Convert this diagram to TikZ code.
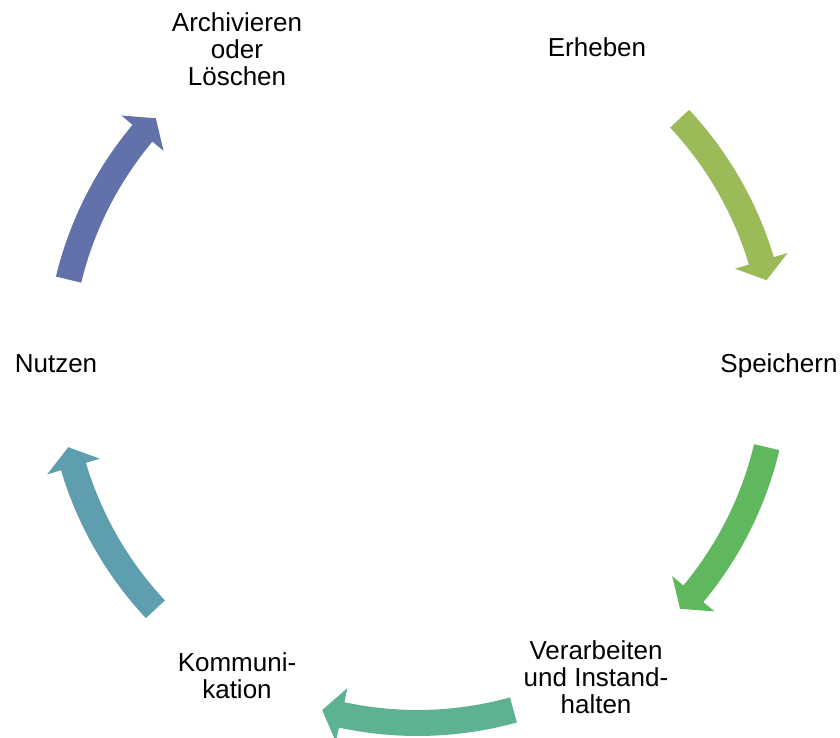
\documentclass[tikz,border=0pt]{standalone}
\usepackage{fontspec}
\setmainfont{Liberation Sans}
\definecolor{cA}{HTML}{9BBB59}
\definecolor{cB}{HTML}{5FB75E}
\definecolor{cC}{HTML}{5DB391}
\definecolor{cD}{HTML}{5F9EAE}
\definecolor{cE}{HTML}{6371AB}
\newcommand{\cycarrow}[3]{%
  \pgfmathsetmacro\hb{#3+3.2}%
  \fill[#1] (#2:372pt) arc[start angle=#2, end angle=\hb, radius=372pt]
    -- (\hb:386.5pt) -- (#3:359pt) -- (\hb:331.5pt) -- (\hb:346pt)
    arc[start angle=\hb, end angle=#2, radius=346pt] -- cycle;
}
\begin{document}
\begin{tikzpicture}[x=1pt,y=1pt,
  lbl/.style={font=\fontsize{26}{27}\selectfont, align=center, inner sep=0pt, anchor=base}]
\useasboundingbox (0,0) rectangle (840,738);
\begin{scope}[shift={(417.5,374)}]
  \cycarrow{cA}{43.1}{13.5}
  \cycarrow{cB}{-13.4}{-43.0}
  \cycarrow{cC}{-74.5}{-105.4}
  \cycarrow{cD}{-136.9}{-166.6}
  \cycarrow{cE}{166.4}{136.8}
\end{scope}
\node[lbl] (erheben) at (597,681) {Erheben};
\node[lbl] (speichern) at (779,365) {Speichern};
\node[lbl] (verarbeiten) at (596,24) {Verarbeiten\\und Instand-\\halten};
\node[lbl] (kommunikation) at (237,39) {Kommuni-\\kation};
\node[lbl] (nutzen) at (56,365) {Nutzen};
\node[lbl] (archivieren) at (237,652) {Archivieren\\oder\\Löschen};
\end{tikzpicture}
\end{document}
